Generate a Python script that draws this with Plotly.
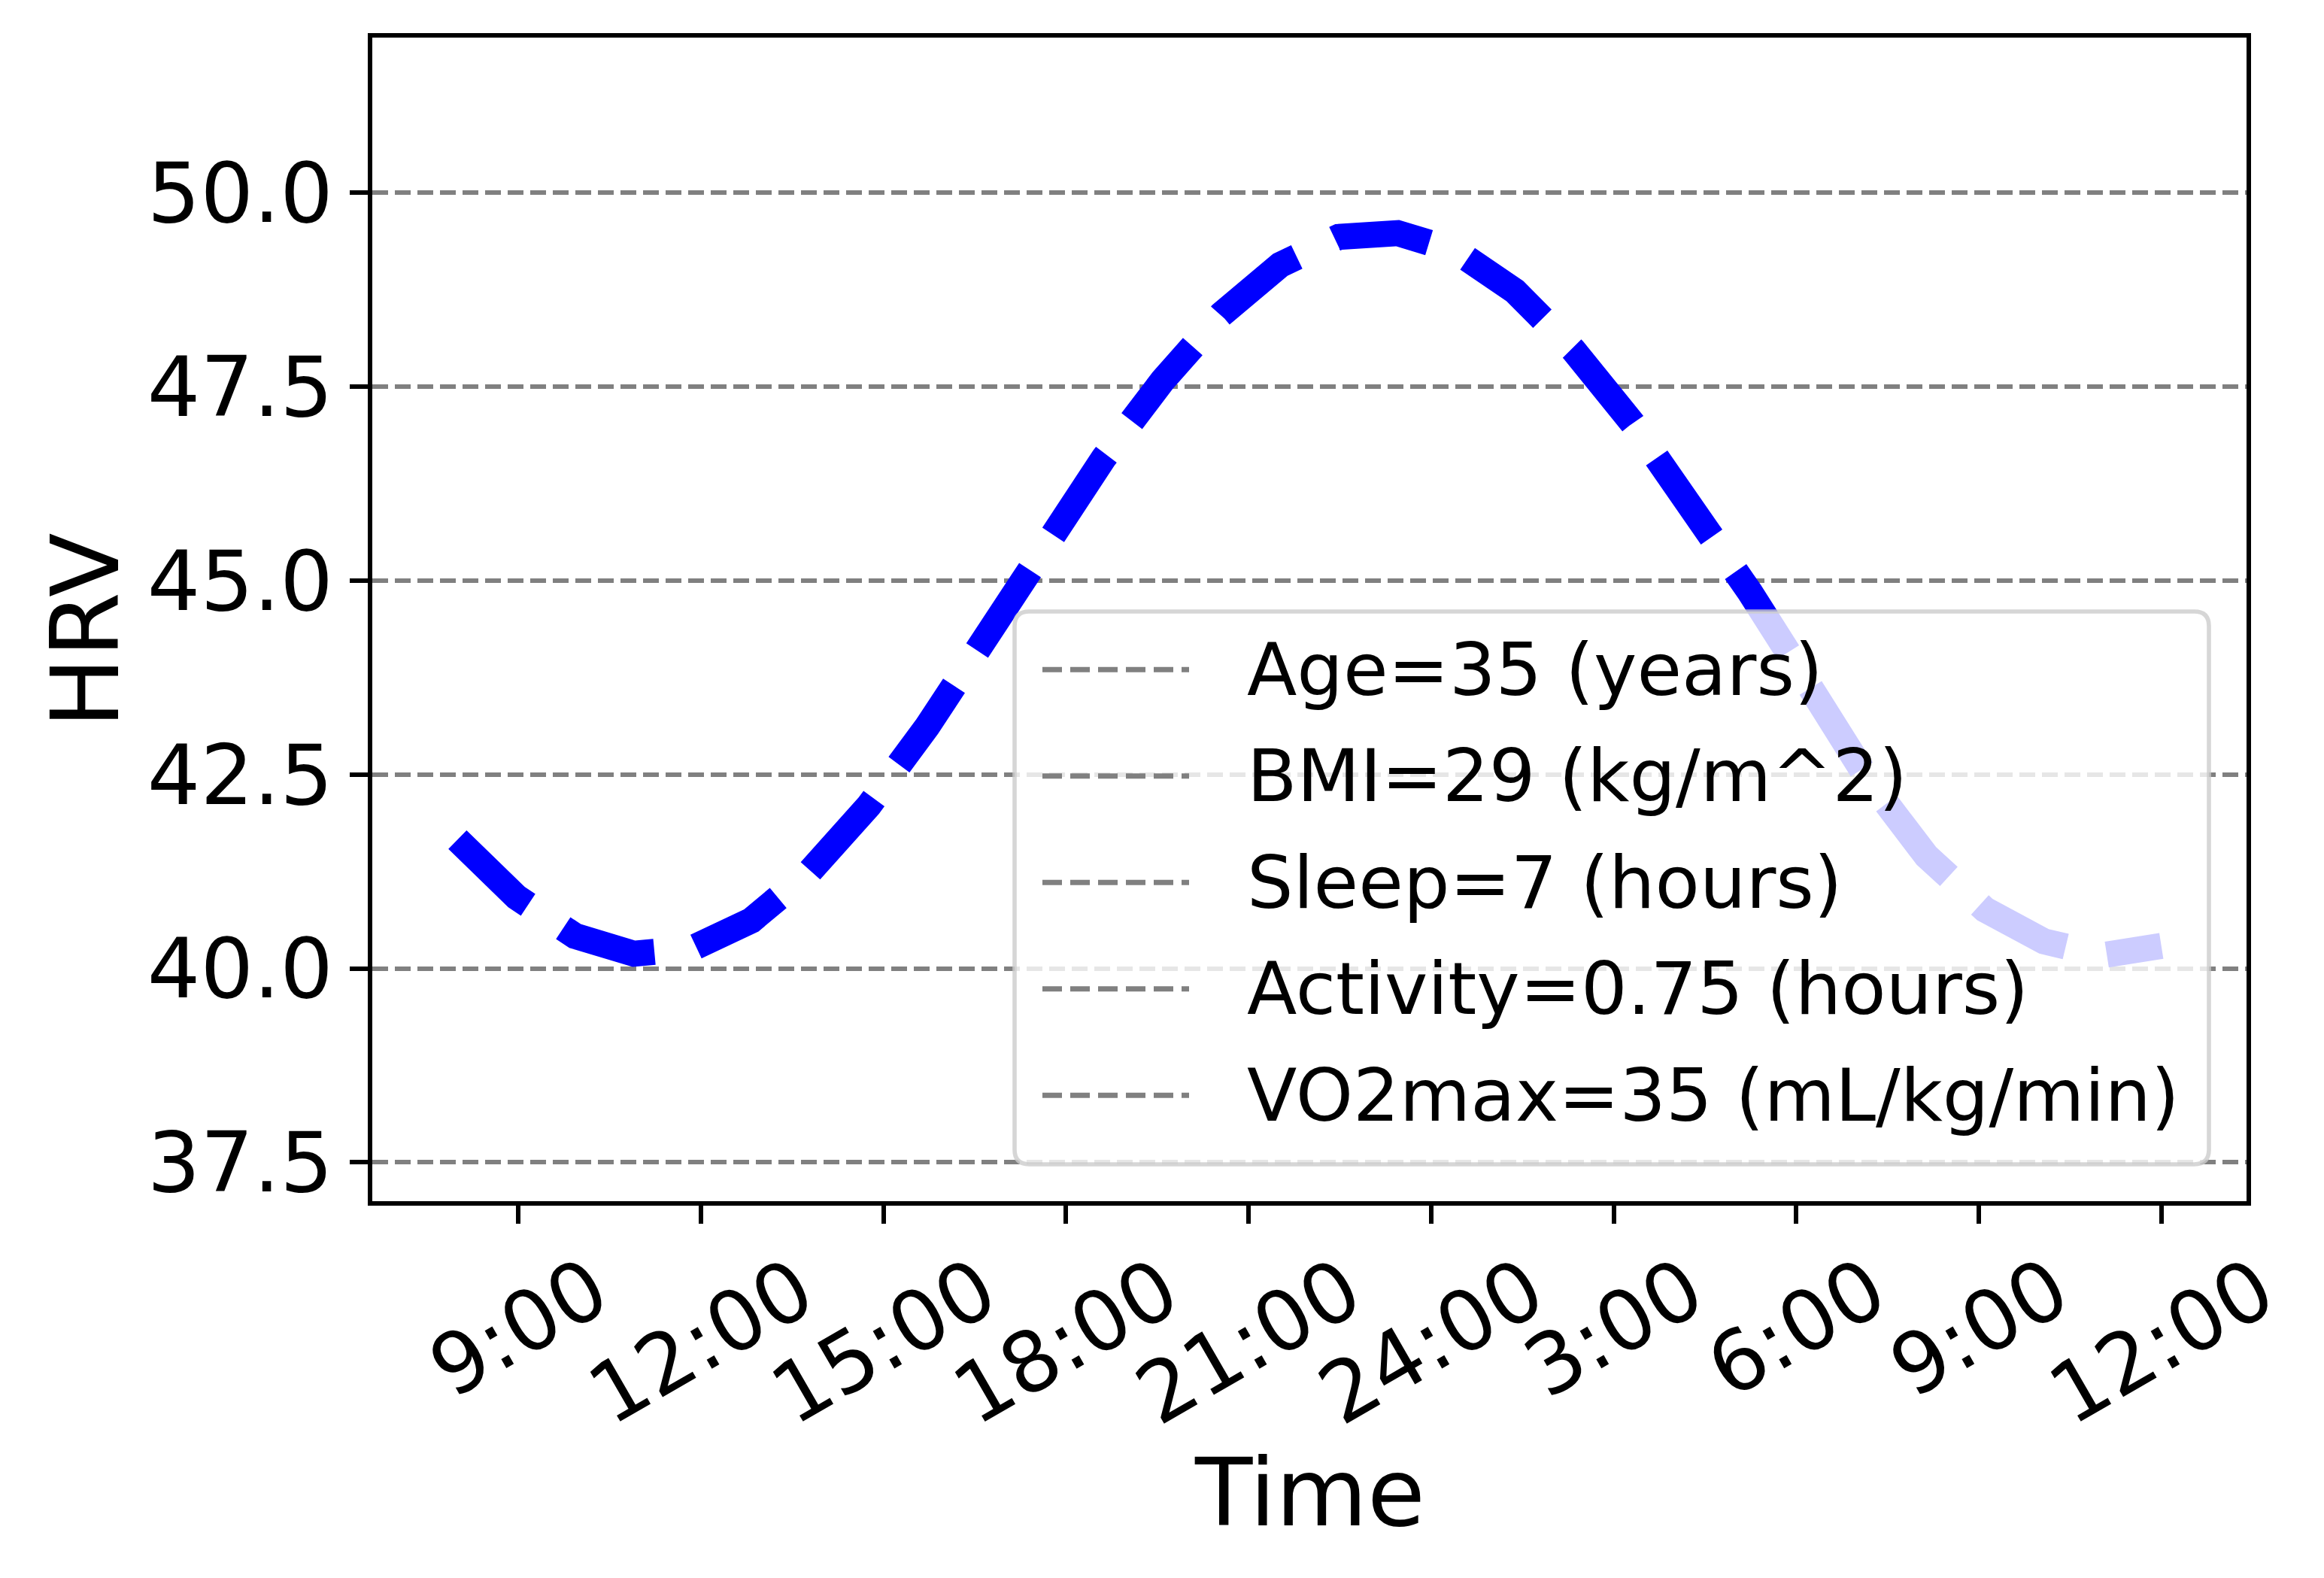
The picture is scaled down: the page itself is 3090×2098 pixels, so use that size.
import plotly.graph_objects as go

# ---------------- data ----------------
times = [8.0, 8.97, 9.93, 10.9, 11.86, 12.83, 13.79, 14.76, 15.72, 16.69,
         17.66, 18.62, 19.59, 20.55, 21.52, 22.48, 23.45, 24.41, 25.38, 26.34,
         27.31, 28.28, 29.24, 30.21, 31.17, 32.14, 33.1, 34.07, 35.03, 36.0]
hrv = [41.66, 40.92, 40.42, 40.19, 40.26, 40.62, 41.25, 42.10, 43.12, 44.28,
       45.47, 46.58, 47.58, 48.43, 49.07, 49.43, 49.48, 49.25, 48.73, 47.97,
       47.03, 45.95, 44.85, 43.65, 42.45, 41.45, 40.76, 40.35, 40.17, 40.29]

x_tick_vals = [9, 12, 15, 18, 21, 24, 27, 30, 33, 36]
x_tick_text = ["9:00", "12:00", "15:00", "18:00", "21:00", "24:00",
               "3:00", "6:00", "9:00", "12:00"]
y_tick_vals = [37.5, 40.0, 42.5, 45.0, 47.5, 50.0]
y_tick_text = ["37.5", "40.0", "42.5", "45.0", "47.5", "50.0"]

legend_labels = ["Age=35 (years)", "BMI=29 (kg/m^2)", "Sleep=7 (hours)",
                 "Activity=0.75 (hours)", "VO2max=35 (mL/kg/min)"]

x_title = "Time"
y_title = "HRV"

# ---------------- geometry (page pixel coordinates) ----------------
OFF = 8                      # default body margin of the html page
W, H = 3090 - OFF, 2098 - OFF
PL, PR, PT, PB = 495, 2987, 50, 1597   # plot area on the page
ML, MT = PL - OFF, PT - OFF
MR, MB = W - (PR - OFF), H - (PB - OFF)
PW = PR - PL
PH = PB - PT
FONT = "DejaVu Sans"


def xp(px):
    return (px - PL) / PW


def yp(py):
    return (PB - py) / PH


fig = go.Figure()
fig.add_trace(go.Scatter(
    x=times, y=hrv, mode="lines",
    line=dict(color="#0000ff", width=34.7, dash="128px,56px"),
    showlegend=False, hoverinfo="skip",
))

shapes = []
annotations = []

# legend frame (rounded, semi-transparent, drawn above the data)
L, R = xp(1349), xp(2937)
T, B = yp(813), yp(1548)
rx, ry = 19.4 / PW, 19.4 / PH
path = (f"M {L+rx},{B} L {R-rx},{B} Q {R},{B} {R},{B+ry} "
        f"L {R},{T-ry} Q {R},{T} {R-rx},{T} L {L+rx},{T} "
        f"Q {L},{T} {L},{T-ry} L {L},{B+ry} Q {L},{B} {L+rx},{B} Z")
shapes.append(dict(type="path", path=path, xref="paper", yref="paper",
                   fillcolor="rgba(255,255,255,0.8)",
                   line=dict(color="rgba(204,204,204,0.8)", width=5.6),
                   layer="above"))

row0, row_step = 890.3, 141.5
for i, lab in enumerate(legend_labels):
    ry_px = row0 + i * row_step
    shapes.append(dict(type="line", xref="paper", yref="paper",
                       x0=xp(1386), x1=xp(1581), y0=yp(ry_px), y1=yp(ry_px),
                       line=dict(color="#808080", width=6.9, dash="26px,11px"),
                       layer="above"))
    annotations.append(dict(text=lab, xref="paper", yref="paper",
                            x=xp(1657), y=yp(ry_px), xanchor="left",
                            yanchor="middle", showarrow=False, borderpad=0,
                            font=dict(family=FONT, size=97, color="black")))

# rotated x tick labels (centered on ticks, like the reference)
for v, t in zip(x_tick_vals, x_tick_text):
    annotations.append(dict(text=t, xref="x", yref="paper", x=v, y=0,
                            xanchor="center", yanchor="top", yshift=-49,
                            textangle=-30, showarrow=False, borderpad=0,
                            font=dict(family=FONT, size=111, color="black")))

# axis titles
annotations.append(dict(text=x_title, xref="paper", yref="paper", x=0.5, y=0,
                        xanchor="center", yanchor="top", yshift=-314,
                        showarrow=False, borderpad=0,
                        font=dict(family=FONT, size=125, color="black")))
annotations.append(dict(text=y_title, xref="paper", yref="paper", x=0,
                        y=yp(838), xshift=-382, xanchor="center",
                        yanchor="middle", textangle=-90, showarrow=False,
                        borderpad=0,
                        font=dict(family=FONT, size=125, color="black")))

fig.update_layout(
    width=W, height=H, autosize=False,
    margin=dict(l=ML, r=MR, t=MT, b=MB, pad=0),
    paper_bgcolor="white", plot_bgcolor="white",
    font=dict(family=FONT, color="black"),
    showlegend=False,
    shapes=shapes, annotations=annotations,
    xaxis=dict(range=[6.6, 37.4], tickmode="array", tickvals=x_tick_vals,
               showticklabels=False, ticks="outside", ticklen=24,
               tickwidth=5.6, tickcolor="black", showline=True,
               linecolor="black", linewidth=5.6, mirror=True,
               showgrid=False, zeroline=False),
    yaxis=dict(range=[37.0, 52.0], tickmode="array", tickvals=y_tick_vals,
               ticktext=y_tick_text, ticks="outside", ticklen=24,
               tickwidth=5.6, tickcolor="black",
               tickfont=dict(family=FONT, size=111, color="black"),
               showline=True, linecolor="black", linewidth=5.6, mirror=True,
               showgrid=True, gridcolor="#808080", gridwidth=5.6,
               griddash="21px,9px", zeroline=False),
)

fig.write_html("out.html", config={"displayModeBar": False})
